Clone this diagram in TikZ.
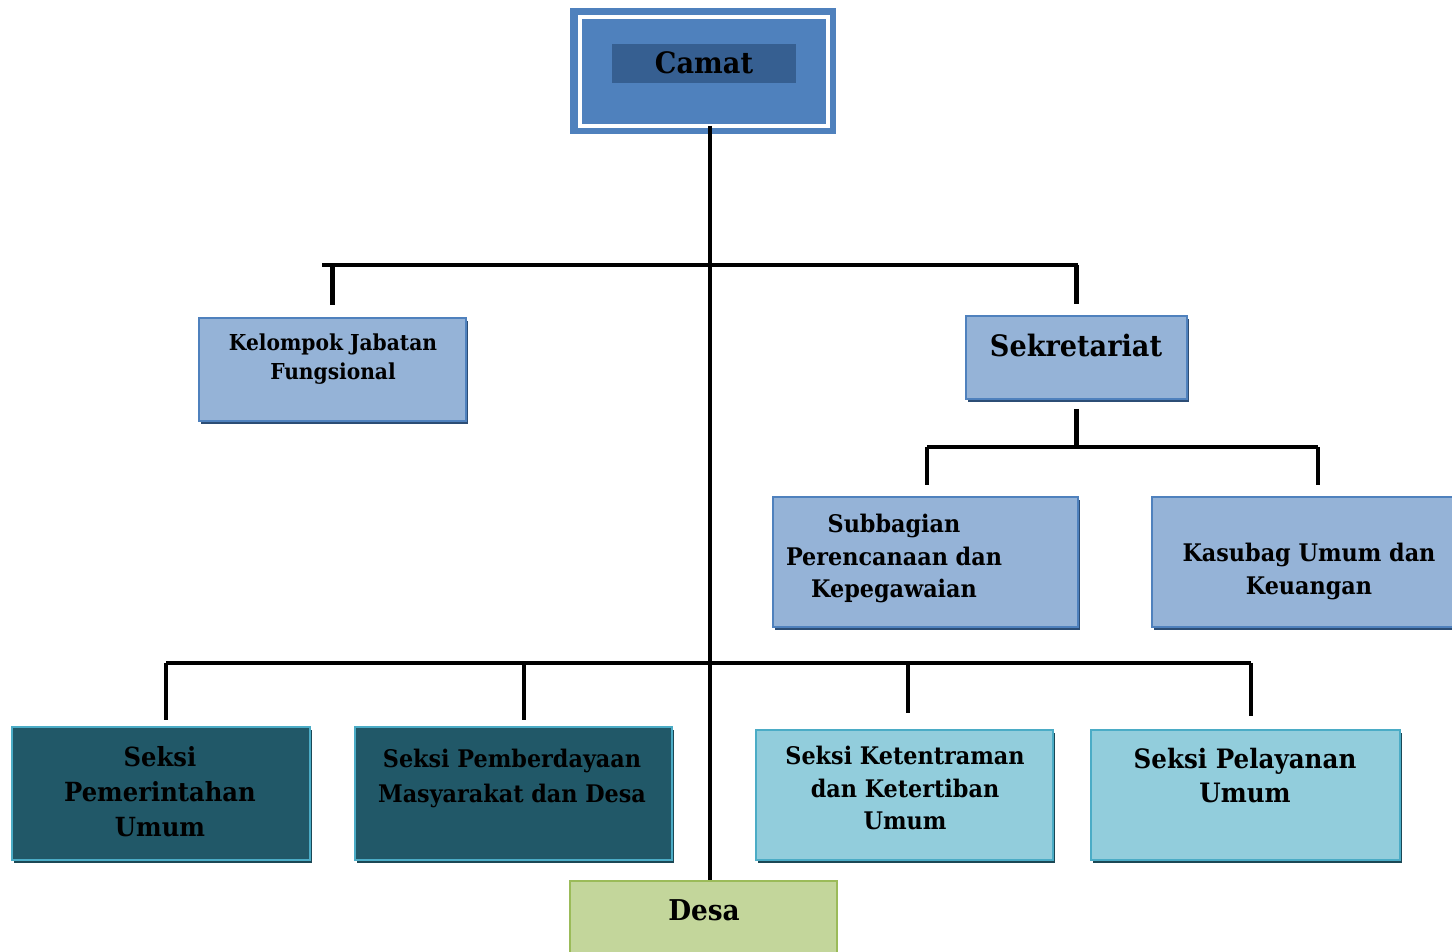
\documentclass[tikz,border=0pt]{standalone}
\usepackage{fontspec}
\setmainfont{DejaVu Serif}[FakeStretch=0.92]
\usetikzlibrary{shadows}
\definecolor{camatblue}{HTML}{4F81BD}
\definecolor{camatdark}{HTML}{365F91}
\definecolor{unitblue}{HTML}{95B3D7}
\definecolor{unitshade}{HTML}{2C4D75}
\definecolor{seksidark}{HTML}{215868}
\definecolor{seksiedge}{HTML}{4BACC6}
\definecolor{seksilight}{HTML}{92CDDC}
\definecolor{seksishade}{HTML}{1B4855}
\definecolor{desagreen}{HTML}{C3D69B}
\definecolor{desaedge}{HTML}{9BBB59}
\newcommand{\fsz}[2]{\fontsize{#1}{#2}\selectfont}
\begin{document}
\begin{tikzpicture}[x=0.02cm,y=-0.02cm]
            \tikzstyle{every node}+=[inner sep=0pt]
            \tikzstyle{conn}=[line width=2.3pt, black]
            \tikzstyle{lbl}=[align=center, font=\bfseries]
            \tikzstyle{unitbox}=[rectangle, fill=unitblue, draw=camatblue, line width=1.3pt,
                general shadow={fill=unitshade, shadow xshift=1.2pt, shadow yshift=-1.8pt}]
            \tikzstyle{seksibox}=[rectangle, fill=seksidark, draw=seksiedge, line width=1.6pt,
                general shadow={fill=seksishade, shadow xshift=1.2pt, shadow yshift=-1.8pt}]
            \tikzstyle{seksibox2}=[seksibox, fill=seksilight]
                \useasboundingbox (0,0) rectangle (1452,952);
                % camat
                \node [rectangle, fill=camatblue, minimum width=5.32cm, minimum height=2.52cm] (camat) at (703,71) {};
                \draw [white, line width=2.2pt] ([shift={(10,9)}]camat.north west) rectangle ([shift={(-8,-8)}]camat.south east);
                \node [lbl, fill=camatdark, minimum width=3.68cm, minimum height=0.78cm, font=\bfseries\fsz{16.8}{19}] (camat-t) at (704,63.5) {\raisebox{1.2pt}{Camat}};
                % upper level
                \node [unitbox, minimum width=5.34cm, minimum height=2.06cm] (kjf) at (332.5,369.5) {};
                \node [lbl, font=\bfseries\fsz{12.5}{16.5}] (kjf-t) at (333,359.5) {Kelompok Jabatan\\Fungsional};
                \node [unitbox, minimum width=4.42cm, minimum height=1.66cm] (sek) at (1076.5,357.5) {};
                \node [lbl, font=\bfseries\fsz{16.8}{19}] (sek-t) at (1076,345) {Sekretariat};
                % subbagian
                \node [unitbox, minimum width=6.1cm, minimum height=2.6cm] (sbp) at (925.5,562) {};
                \node [lbl, font=\bfseries\fsz{13.8}{18.5}] (sbp-t) at (894,558.5) {Subbagian\\Perencanaan dan\\Kepegawaian};
                \node [unitbox, minimum width=6.64cm, minimum height=2.6cm] (kuk) at (1318,562) {};
                \node [lbl, font=\bfseries\fsz{13.8}{18.7}] (kuk-t) at (1309,571.5) {Kasubag Umum dan\\Keuangan};
                % seksi
                \node [seksibox, minimum width=5.96cm, minimum height=2.66cm] (spu) at (161,793.5) {};
                \node [lbl, font=\bfseries\fsz{15}{20}] (spu-t) at (160,791.5) {Seksi\\Pemerintahan\\Umum};
                \node [seksibox, minimum width=6.34cm, minimum height=2.66cm] (spmd) at (513.5,793.5) {};
                \node [lbl, font=\bfseries\fsz{13.8}{20.4}] (spmd-t) at (512,778.5) {Seksi Pemberdayaan\\Masyarakat dan Desa};
                \node [seksibox2, minimum width=5.94cm, minimum height=2.6cm] (stk) at (904.5,795) {};
                \node [lbl, font=\bfseries\fsz{13.8}{18.5}] (stk-t) at (905,788) {Seksi Ketentraman\\dan Ketertiban\\Umum};
                \node [seksibox2, minimum width=6.18cm, minimum height=2.6cm] (spl) at (1245.5,795) {};
                \node [lbl, font=\bfseries\fsz{15.2}{19.8}] (spl-t) at (1245,775.5) {Seksi Pelayanan\\Umum};
                % desa
                \node [rectangle, fill=desagreen, draw=desaedge, line width=1.4pt, minimum width=5.34cm, minimum height=1.58cm] (desa) at (703.5,920.5) {};
                \node [lbl, font=\bfseries\fsz{16.3}{19}] (desa-t) at (704,910) {Desa};
                % lines
                \coordinate (trunk) at (710,126);
                \coordinate (b1w) at (322,265);
                \coordinate (b1e) at (1078,265);
                \coordinate (b2w) at (927,447);
                \coordinate (b2e) at (1318,447);
                \coordinate (b3a) at (166,663);
                \coordinate (b3b) at (524,663);
                \coordinate (b3c) at (908,663);
                \coordinate (b3d) at (1251,663);
                \draw [conn] (trunk) -- (trunk |- desa.north);
                \draw [conn] (b1w) -- (b1e);
                \draw [conn, shorten >=7pt] (kjf.north |- b1w) -- (kjf.north);
                \draw [conn, shorten >=6pt] (sek.north |- b1e) -- (sek.north);
                \draw [conn, shorten <=5pt] (sek.south) -- (sek.south |- b2w);
                \draw [conn] (b2w) -- (b2e);
                \draw [conn, shorten >=6pt] (b2w) -- (b2w |- sbp.north);
                \draw [conn, shorten >=6pt] (b2e) -- (b2e |- kuk.north);
                \draw [conn] (b3a) -- (b3d);
                \draw [conn, shorten >=3pt] (b3a) -- (b3a |- spu.north);
                \draw [conn, shorten >=3pt] (b3b) -- (b3b |- spmd.north);
                \draw [conn, shorten >=9pt] (b3c) -- (b3c |- stk.north);
                \draw [conn, shorten >=7pt] (b3d) -- (b3d |- spl.north);
            \end{tikzpicture}
\end{document}
